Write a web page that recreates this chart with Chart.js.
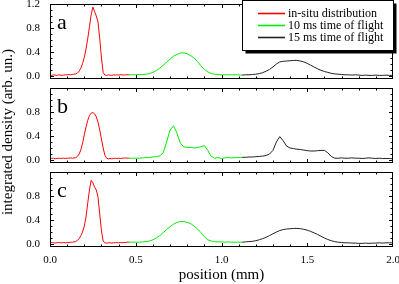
<!DOCTYPE html>
<html>
<head>
<meta charset="utf-8">
<script src="https://cdn.jsdelivr.net/npm/chart.js@4.4.1/dist/chart.umd.min.js"></script>
<style>
html, body { margin: 0; padding: 0; background: #fff; }
#wrap { position: relative; width: 399px; height: 284px; overflow: hidden; }
#wrap canvas { position: absolute; left: 0; }
#ytitle {
  position: absolute; left: -93px; top: 124px; width: 200px; height: 16px;
  line-height: 16px; text-align: center; white-space: nowrap;
  font: 15px "Liberation Serif", serif; color: #000;
  transform: rotate(-90deg);
}
</style>
</head>
<body>
<div id="wrap">
  <canvas id="panelA" width="399" height="84" style="top:0px"></canvas>
  <canvas id="panelB" width="399" height="84" style="top:84px"></canvas>
  <canvas id="panelC" width="399" height="116" style="top:168px"></canvas>
  <div id="ytitle">integrated density (arb. un.)</div>
</div>
<script>
// positions (mm) for the three parts of each profile
var xRed = [0,0.01,0.02,0.03,0.04,0.05,0.06,0.07,0.08,0.09,0.1,0.11,0.12,0.13,0.14,0.15,0.16,0.17,0.18,0.19,
  0.2,0.21,0.22,0.23,0.24,0.25,0.26,0.27,0.28,0.29,0.3,0.31,0.32,0.33,0.34,0.35,0.36,0.37,0.38,0.39,
  0.4,0.41,0.42,0.43,0.44,0.45,0.46];
var xGreen = [0.46,0.48,0.5,0.52,0.54,0.56,0.58,0.6,0.62,0.64,0.66,0.68,0.7,0.72,0.74,0.76,0.78,0.8,0.82,0.84,
  0.86,0.88,0.9,0.92,0.94,0.96,0.98,1.0,1.02,1.04,1.06,1.08,1.1,1.12];
var xBlack = [1.12,1.14,1.16,1.18,1.2,1.22,1.24,1.26,1.28,1.3,1.32,1.34,1.36,1.38,1.4,1.42,1.44,1.46,1.48,1.5,
  1.52,1.54,1.56,1.58,1.6,1.62,1.64,1.66,1.68,1.7,1.72,1.74,1.76,1.78,1.8,1.82,1.84,1.86,1.88,1.9,
  1.92,1.94,1.96,1.98,2.0];

// panel a
var redA = [0.02,0.01,0.02,0.015,0.01,0.02,0.015,0.01,0.015,0.02,
  0.02,0.025,0.02,0.025,0.03,0.035,0.05,0.08,0.13,0.21,
  0.31,0.45,0.62,0.82,1.02,1.15,1.07,1.0,0.9,0.62,
  0.3,0.06,0.015,0.01,0.02,0.015,0.01,0.02,0.015,0.02,
  0.015,0.02,0.02,0.015,0.02,0.02,0.02];
var greenA = [0.02,0.02,0.02,0.025,0.025,0.03,0.04,0.06,0.09,0.13,0.18,0.23,0.28,0.33,0.36,0.385,0.385,
  0.37,0.34,0.3,0.24,0.17,0.11,0.07,0.04,0.03,0.025,0.02,0.02,0.02,0.02,0.02,0.02,0.015];
var blackA = [0.015,0.02,0.02,0.025,0.03,0.04,0.055,0.08,0.11,0.15,0.2,0.235,0.245,0.25,0.255,0.26,0.26,
  0.25,0.235,0.21,0.18,0.15,0.12,0.095,0.075,0.06,0.045,0.035,0.03,0.025,0.02,0.02,0.015,0.02,0.015,
  0.01,0.015,0.01,0.01,0.015,0.01,0.01,0.015,0.01,0.01];

// panel b
var redB = [0.03,0.025,0.03,0.02,0.025,0.03,0.025,0.03,0.03,0.025,
  0.03,0.03,0.035,0.03,0.035,0.04,0.06,0.1,0.17,0.28,
  0.42,0.55,0.66,0.74,0.78,0.79,0.77,0.72,0.63,0.5,
  0.35,0.2,0.08,0.03,0.02,0.025,0.02,0.025,0.03,0.025,
  0.03,0.025,0.03,0.03,0.035,0.03,0.03];
var greenB = [0.03,0.03,0.03,0.03,0.035,0.04,0.04,0.05,0.055,0.07,0.12,0.3,0.5,0.57,0.45,0.28,0.22,
  0.21,0.21,0.2,0.21,0.22,0.24,0.16,0.06,0.03,0.04,0.025,0.035,0.04,0.035,0.04,0.04,0.045];
var blackB = [0.045,0.045,0.05,0.05,0.055,0.06,0.065,0.075,0.1,0.16,0.3,0.39,0.32,0.23,0.2,0.19,0.18,
  0.175,0.165,0.155,0.15,0.15,0.155,0.16,0.16,0.12,0.06,0.03,0.03,0.035,0.03,0.03,0.035,0.03,0.03,
  0.025,0.03,0.035,0.03,0.025,0.03,0.025,0.025,0.025,0.02];

// panel c
var redC = [0.02,0.025,0.02,0.015,0.02,0.025,0.02,0.02,0.025,0.02,
  0.025,0.025,0.03,0.03,0.035,0.04,0.06,0.09,0.14,0.2,
  0.3,0.45,0.68,0.9,1.06,1.02,0.95,0.9,0.78,0.5,
  0.22,0.05,0.02,0.015,0.02,0.02,0.015,0.02,0.02,0.025,
  0.02,0.025,0.02,0.025,0.025,0.03,0.03];
var greenC = [0.03,0.03,0.03,0.03,0.035,0.04,0.05,0.07,0.1,0.14,0.19,0.24,0.29,0.33,0.36,0.375,0.375,
  0.36,0.34,0.3,0.25,0.19,0.12,0.07,0.05,0.04,0.035,0.035,0.03,0.035,0.03,0.03,0.03,0.03];
var blackC = [0.03,0.035,0.04,0.045,0.055,0.07,0.09,0.11,0.14,0.17,0.2,0.225,0.24,0.25,0.255,0.26,0.26,
  0.255,0.245,0.23,0.21,0.185,0.16,0.13,0.1,0.075,0.055,0.04,0.03,0.025,0.02,0.02,0.015,0.015,0.01,
  0.01,0.015,0.01,0.015,0.015,0.02,0.015,0.02,0.02,0.02];

var xTicks = [0, 0.5, 1.0, 1.5, 2.0];
var yTicksA = [0, 0.4, 0.8, 1.2];
var yTicksBC = [0, 0.4, 0.8];
var labels = ["in-situ distribution", "10 ms time of flight", "15 ms time of flight"];
var colors = ["#ff0000", "#00ee00", "#222222"];

var serif = "'Liberation Serif', serif";

function pts(xs, ys) {
  return xs.map(function (x, i) { return {x: x, y: ys[i]}; });
}

// frame with inward ticks on all four sides, plus the panel letter
function framePlugin(letter) {
  return {
    id: "frame",
    afterDraw: function (chart) {
      var ctx = chart.ctx, a = chart.chartArea;
      var x = chart.scales.x, y = chart.scales.y;
      ctx.save();
      ctx.strokeStyle = "#000";
      ctx.lineWidth = 1;
      ctx.strokeRect(a.left + 0.5, a.top + 0.5, a.right - a.left - 1, a.bottom - a.top - 1);
      ctx.beginPath();
      for (var i = 1; i < 20; i++) {
        var px = Math.round(x.getPixelForValue(i / 10)) + 0.5;
        var len = i % 5 === 0 ? 4 : 2.5;
        ctx.moveTo(px, a.top); ctx.lineTo(px, a.top + len);
        ctx.moveTo(px, a.bottom); ctx.lineTo(px, a.bottom - len);
      }
      for (var j = 0; j <= 12; j++) {
        var py = Math.round(y.getPixelForValue(j / 10)) + 0.5;
        if (py < a.top + 1) continue;
        var l = j % 4 === 0 ? 4 : 2.5;
        ctx.moveTo(a.left, py); ctx.lineTo(a.left + l, py);
        ctx.moveTo(a.right, py); ctx.lineTo(a.right - l, py);
      }
      ctx.stroke();
      ctx.fillStyle = "#000";
      ctx.font = "22px " + serif;
      ctx.textBaseline = "alphabetic";
      ctx.fillText(letter, a.left + 7, a.top + 25);
      ctx.restore();
    }
  };
}

var legendBox = {
  id: "legendBox",
  afterDraw: function (chart) {
    var ctx = chart.ctx;
    var bx = 242.5, by = 0.5, bw = 151, bh = 50;
    ctx.save();
    ctx.fillStyle = "#000";
    ctx.fillRect(bx + 3, by + 3, bw, bh);
    ctx.fillStyle = "#fff";
    ctx.fillRect(bx, by, bw, bh);
    ctx.strokeStyle = "#000";
    ctx.lineWidth = 1;
    ctx.strokeRect(bx, by, bw, bh);
    ctx.font = "12px " + serif;
    ctx.textBaseline = "middle";
    labels.forEach(function (text, i) {
      var ry = 13 + i * 12;
      ctx.strokeStyle = colors[i];
      ctx.lineWidth = 1.6;
      ctx.beginPath();
      ctx.moveTo(258, ry + 0.5);
      ctx.lineTo(285, ry + 0.5);
      ctx.stroke();
      ctx.fillStyle = "#000";
      ctx.fillText(text, 288, ry + 1);
    });
    ctx.restore();
  }
};

function makePanel(id, red, green, black, yTicks, letter, showX) {
  var sets = [red, green, black].map(function (ys, k) {
    var xs = [xRed, xGreen, xBlack][k];
    return {
      label: labels[k], data: pts(xs, ys), borderColor: colors[k],
      borderWidth: 1, pointRadius: 0, tension: 0, fill: false
    };
  });
  var plugins = [framePlugin(letter)];
  if (letter === "a") plugins.push(legendBox);
  return new Chart(id, {
    type: "line",
    data: {datasets: sets},
    options: {
      responsive: false,
      animation: false,
      layout: {padding: {top: 4, right: 6, bottom: showX ? 0 : 5, left: 0}},
      plugins: {legend: {display: false}, tooltip: {enabled: false}},
      scales: {
        x: {
          type: "linear", min: 0, max: 2, display: showX,
          grid: {display: false, drawTicks: false},
          border: {display: false},
          afterBuildTicks: function (s) { s.ticks = xTicks.map(function (v) { return {value: v}; }); },
          ticks: {
            color: "#000", padding: 7, maxRotation: 0, autoSkip: false,
            font: {family: serif, size: 11},
            callback: function (v) { return Number(v).toFixed(1); }
          },
          title: {display: true, text: "position (mm)", color: "#000", padding: 0, font: {family: serif, size: 15}},
          afterFit: function (s) {
            if (showX) s.height = 37;
            s.paddingLeft = 0; s.paddingRight = 0;
          }
        },
        y: {
          min: -0.05, max: 1.2,
          grid: {display: false, drawTicks: false},
          border: {display: false},
          afterBuildTicks: function (s) { s.ticks = yTicks.map(function (v) { return {value: v}; }); },
          ticks: {
            color: "#000", padding: 10,
            font: {family: serif, size: 11},
            callback: function (v) { return Number(v).toFixed(1); }
          },
          afterFit: function (s) { s.width = 50; s.paddingTop = 0; s.paddingBottom = 0; }
        }
      }
    },
    plugins: plugins
  });
}

makePanel("panelA", redA, greenA, blackA, yTicksA, "a", false);
makePanel("panelB", redB, greenB, blackB, yTicksBC, "b", false);
makePanel("panelC", redC, greenC, blackC, yTicksBC, "c", true);
</script>
</body>
</html>
